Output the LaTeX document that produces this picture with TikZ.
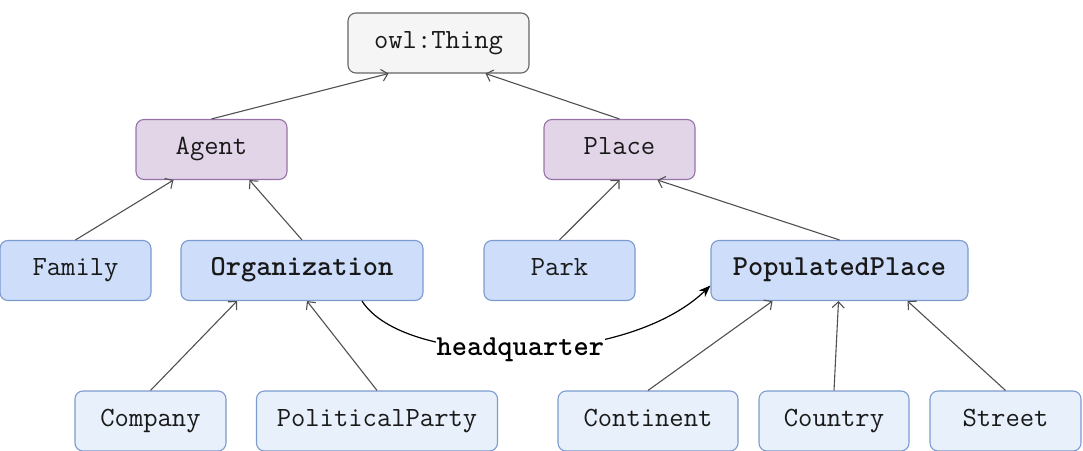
\documentclass[tikz,border=0pt]{standalone}
\usepackage{fontspec}
\usetikzlibrary{arrows.meta,calc}
\definecolor{rootfill}{RGB}{245,245,245}
\definecolor{rootdraw}{RGB}{102,102,102}
\definecolor{topfill}{RGB}{225,213,231}
\definecolor{topdraw}{RGB}{150,115,166}
\definecolor{midfill}{RGB}{205,221,250}
\definecolor{lowfill}{RGB}{232,240,252}
\definecolor{bluedraw}{RGB}{124,155,206}
\definecolor{edgegray}{RGB}{80,80,80}
\newcommand\classfont{\ttfamily\fontsize{27.8}{30}\selectfont}
\newcommand\strongfont{\ttfamily\bfseries\fontsize{29}{31}\selectfont}
\tikzset{
  cls/.style={rectangle, rounded corners=8pt, line width=1.1pt, minimum height=60pt,
    inner sep=0pt, font=\classfont, text=black!90, text height=14pt, text depth=4pt},
  rootbox/.style={cls, fill=rootfill, draw=rootdraw},
  topbox/.style={cls, fill=topfill, draw=topdraw},
  midbox/.style={cls, fill=midfill, draw=bluedraw},
  lowbox/.style={cls, fill=lowfill, draw=bluedraw},
  isa/.style={draw=edgegray, line width=1.1pt, -{Straight Barb[length=6pt,width=12pt]}},
  rel/.style={draw=black, line width=1.2pt, -{Stealth[length=12pt,width=9pt]}},
}
\begin{document}
\begin{tikzpicture}[x=1pt,y=-1pt]
\useasboundingbox (0,0) rectangle (1083,450);
% root
\node[rootbox, minimum width=181pt] (thing) at (438.5,43) {owl:Thing};
% first level
\node[topbox, minimum width=151pt] (agent) at (211.5,149.5) {Agent};
\node[topbox, minimum width=151pt] (place) at (619.5,149.5) {Place};
% second level
\node[midbox, minimum width=151pt] (family) at (75.5,270.5) {Family};
\node[midbox, minimum width=242pt, font=\strongfont] (org) at (302,270.5) {Organization};
\node[midbox, minimum width=151pt] (park) at (559.5,270.5) {Park};
\node[midbox, minimum width=257pt, font=\strongfont] (pop) at (839.5,270.5) {PopulatedPlace};
% third level
\node[lowbox, minimum width=151pt] (company) at (150.5,421) {Company};
\node[lowbox, minimum width=241pt] (party) at (377,421) {PoliticalParty};
\node[lowbox, minimum width=180pt] (continent) at (648,421) {Continent};
\node[lowbox, minimum width=150pt] (country) at (834,421) {Country};
\node[lowbox, minimum width=151pt] (street) at (1005.5,421) {Street};
% subclass links
\draw[isa] (agent.north) -- ($(thing.south)+(-50,0)$);
\draw[isa] (place.north) -- ($(thing.south)+(47,0)$);
\draw[isa] (family.north) -- ($(agent.south)+(-38,0)$);
\draw[isa] (org.north) -- ($(agent.south)+(38,0)$);
\draw[isa] (park.north) -- (place.south);
\draw[isa] (pop.north) -- ($(place.south)+(38,0)$);
\draw[isa] (company.north) -- ($(org.south)+(-65,0)$);
\draw[isa] (party.north) -- ($(org.south)+(5,0)$);
\draw[isa] (continent.north) -- ($(pop.south)+(-67,0)$);
\draw[isa] (country.north) -- ($(pop.south)+(-1,0)$);
\draw[isa] (street.north) -- ($(pop.south)+(68,0)$);
% object property
\coordinate (hqstart) at ($(org.south)+(60,0)$);
\coordinate (hqend) at ($(pop.west)+(0,15)$);
\draw[rel] (hqstart) .. controls (405,368) and (625,368) .. (hqend)
  node[pos=0.5, fill=white, inner sep=1pt, font=\strongfont] (hq) {headquarter};
\end{tikzpicture}
\end{document}
